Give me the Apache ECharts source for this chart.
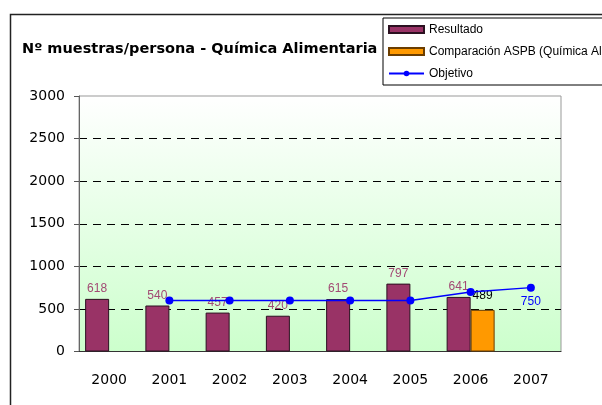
<!DOCTYPE html>
<html>
<head>
<meta charset="utf-8">
<script src="https://cdn.jsdelivr.net/npm/echarts@6/dist/echarts.min.js"></script>
<style>
  html, body { margin: 0; padding: 0; background: #fff; }
  #chart { width: 602px; height: 405px; }
</style>
</head>
<body>
<div id="chart"></div>
<script>
// datos
var years = ['2000', '2001', '2002', '2003', '2004', '2005', '2006', '2007'];
var resultado = [618, 540, 457, 420, 615, 797, 641, null];
var comparacion = [null, null, null, null, null, null, 489, null];
var objetivo = [null, 600, 600, 600, 600, 600, 700, 750];
var yTicks = [0, 500, 1000, 1500, 2000, 2500, 3000];

var chart = echarts.init(document.getElementById('chart'));

// solo la última etiqueta del objetivo se ve
var objetivoData = objetivo.map(function (v, i) {
  if (i === objetivo.length - 1) {
    return { value: v, label: { show: true } };
  }
  return v;
});

chart.setOption({
  animation: false,
  title: {
    text: 'Nº muestras/persona - Química Alimentaria',
    left: 17,
    top: 37,
    textStyle: {
      fontFamily: 'DejaVu Sans',
      fontWeight: 'bold',
      fontSize: 14.5,
      color: '#000'
    }
  },
  legend: {
    orient: 'vertical',
    left: 383,
    top: 18,
    padding: [5, 6, 5, 5],
    itemGap: 9,
    itemWidth: 35,
    itemHeight: 7,
    backgroundColor: '#fff',
    borderColor: '#000',
    borderWidth: 1,
    borderRadius: 0,
    textStyle: {
      fontFamily: 'Liberation Sans',
      fontSize: 12,
      color: '#000',
      lineHeight: 13
    },
    data: [
      { name: 'Resultado', icon: 'rect' },
      { name: 'Comparación ASPB (Química Alimentaria)', icon: 'rect' },
      { name: 'Objetivo' }
    ]
  },
  graphic: [
    {
      type: 'rect',
      left: 8,
      top: 12,
      shape: { width: 700, height: 500 },
      style: { fill: 'none', stroke: '#222', lineWidth: 1.5 },
      silent: true,
      z: -1
    }
  ],
  grid: {
    left: 79,
    top: 96,
    right: 41,
    bottom: 53.5,
    show: true,
    borderColor: '#999',
    borderWidth: 1,
    backgroundColor: new echarts.graphic.LinearGradient(0, 0, 0, 1, [
      { offset: 0, color: '#ffffff' },
      { offset: 1, color: '#ccffcc' }
    ])
  },
  xAxis: {
    type: 'category',
    data: years,
    axisLine: { lineStyle: { color: '#333', width: 1 } },
    axisTick: { length: 5, lineStyle: { color: '#555' } },
    axisLabel: {
      margin: 22,
      fontFamily: 'DejaVu Sans',
      fontSize: 14,
      color: '#000'
    }
  },
  yAxis: {
    type: 'value',
    min: yTicks[0],
    max: yTicks[yTicks.length - 1],
    interval: 500,
    axisLine: { show: true, lineStyle: { color: '#666', width: 1 } },
    axisTick: { show: true, length: 5, lineStyle: { color: '#555' } },
    axisLabel: {
      margin: 14,
      fontFamily: 'DejaVu Sans',
      fontSize: 14,
      color: '#000',
      formatter: function (v) { return String(v); }
    },
    splitLine: {
      show: true,
      showMinLine: false,
      showMaxLine: false,
      lineStyle: { color: '#000', type: [8, 6], width: 1 }
    }
  },
  series: [
    {
      name: 'Resultado',
      type: 'bar',
      barWidth: 24,
      barGap: '0%',
      data: resultado,
      itemStyle: { color: '#993366', borderColor: '#2b1020', borderWidth: 1 },
      label: {
        show: true,
        position: 'top',
        distance: 4,
        fontFamily: 'Liberation Sans',
        fontSize: 12,
        color: '#a24a74'
      }
    },
    {
      name: 'Comparación ASPB (Química Alimentaria)',
      type: 'bar',
      barWidth: 24,
      barGap: '0%',
      data: comparacion,
      itemStyle: { color: '#ff9900', borderColor: '#6b3d00', borderWidth: 1 },
      label: {
        show: true,
        position: 'top',
        distance: 8,
        fontFamily: 'Liberation Sans',
        fontSize: 12,
        color: '#000'
      }
    },
    {
      name: 'Objetivo',
      type: 'line',
      data: objetivoData,
      symbol: 'circle',
      symbolSize: 8,
      z: 5,
      lineStyle: { color: '#0000ff', width: 1.5 },
      itemStyle: { color: '#0000ff' },
      label: {
        show: false,
        position: 'bottom',
        distance: 4,
        fontFamily: 'Liberation Sans',
        fontSize: 12,
        color: '#0000ff'
      }
    }
  ]
});
</script>
</body>
</html>
